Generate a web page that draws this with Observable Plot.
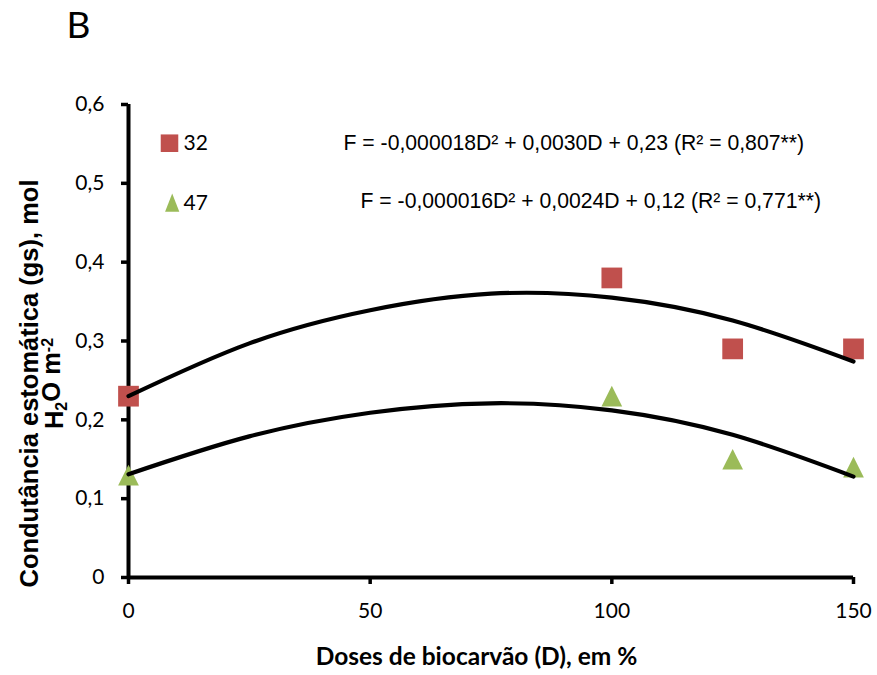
<!DOCTYPE html>
<html>
<head>
<meta charset="utf-8">
<script src="https://cdn.jsdelivr.net/npm/d3@7"></script>
<script src="https://cdn.jsdelivr.net/npm/@observablehq/plot@0.6"></script>
<style>
  html, body { margin: 0; padding: 0; background: #ffffff; }
</style>
</head>
<body>
<div id="chart"></div>
<script>
// ---- data ----
const doses = [0, 100, 125, 150];
const gs32 = [0.23, 0.38, 0.29, 0.29];
const gs47 = [0.13, 0.23, 0.15, 0.14];

// fitted curves
const curveDoses = [0, 25, 50, 75, 100, 125, 150];
const fit32 = [0.230, 0.297, 0.339, 0.360, 0.355, 0.326, 0.274];
const fit47 = [0.131, 0.179, 0.209, 0.221, 0.212, 0.181, 0.128];

const seriesNames = ["32", "47"];
const seriesColors = ["#C0504D", "#9BBB59"];
const equations = [
  "F = -0,000018D² + 0,0030D + 0,23 (R² = 0,807**)",
  "F = -0,000016D² + 0,0024D + 0,12 (R² = 0,771**)"
];

const xTicks = [0, 50, 100, 150];
const yTicks = [0, 0.1, 0.2, 0.3, 0.4, 0.5, 0.6];
const yTickLabels = ["0", "0,1", "0,2", "0,3", "0,4", "0,5", "0,6"];

const panelLabel = "B";
const xTitle = "Doses de biocarvão (D), em %";
const yTitle1 = "Condutância estomática (gs), mol";
const yTitle2 = "H2O m-2";

// ---- tables ----
const pts32 = doses.map((d, i) => ({d, v: gs32[i]}));
const pts47 = doses.map((d, i) => ({d, v: gs47[i]}));
const line32 = curveDoses.map((d, i) => ({d, v: fit32[i]}));
const line47 = curveDoses.map((d, i) => ({d, v: fit47[i]}));

// Excel-style triangle marker (as tall as it is wide, or narrower for the legend)
function triangleSymbol(widthRatio) {
  return {
    draw(context, size) {
      const h = Math.sqrt(size);
      const w = h * widthRatio;
      context.moveTo(0, -h / 2);
      context.lineTo(w / 2, h / 2);
      context.lineTo(-w / 2, h / 2);
      context.closePath();
    }
  };
}

const sans = "'Liberation Sans', Arial, sans-serif";
const calib = "Lato, 'Open Sans', sans-serif";

const chart = Plot.plot({
  width: 877,
  height: 675,
  marginLeft: 128,
  marginRight: 24,
  marginTop: 104,
  marginBottom: 98,
  style: {background: "#ffffff", color: "#000000", fontFamily: calib, fontSize: "21px"},
  x: {domain: [0, 150], label: null},
  y: {domain: [0, 0.6], label: null},
  marks: [
    Plot.axisX({ticks: xTicks, tickSize: 7, tickPadding: 19, strokeWidth: 3.5, fontSize: 21, fontFamily: calib, label: null}),
    Plot.axisY({ticks: yTicks, tickFormat: (d) => yTickLabels[yTicks.indexOf(d)], tickSize: 7, tickPadding: 17, strokeWidth: 3.5, fontSize: 21, fontFamily: calib, label: null}),
    Plot.ruleX([0], {stroke: "#000", strokeWidth: 4}),
    Plot.ruleY([0], {stroke: "#000", strokeWidth: 4}),
    // data markers
    Plot.dot(pts32, {x: "d", y: "v", symbol: "square", r: 11.7, fill: seriesColors[0], stroke: "none"}),
    Plot.dot(pts47, {x: "d", y: "v", symbol: triangleSymbol(1), r: 11.7, fill: seriesColors[1], stroke: "none"}),
    // trend curves
    Plot.line(line32, {x: "d", y: "v", curve: "natural", stroke: "#000", strokeWidth: 4.2}),
    Plot.line(line47, {x: "d", y: "v", curve: "natural", stroke: "#000", strokeWidth: 4.2}),
    // legend
    Plot.dot([seriesNames[0]], {frameAnchor: "top-left", dx: 41, dy: 38.7, symbol: "square", r: 9.9, fill: seriesColors[0]}),
    Plot.dot([seriesNames[1]], {frameAnchor: "top-left", dx: 43.7, dy: 98.2, symbol: triangleSymbol(0.78), r: 10.3, fill: seriesColors[1]}),
    Plot.text([seriesNames[0]], {text: d => d, frameAnchor: "top-left", dx: 55, dy: 39, textAnchor: "start", lineAnchor: "middle", fontSize: 21, fontFamily: calib, fill: "#000"}),
    Plot.text([seriesNames[1]], {text: d => d, frameAnchor: "top-left", dx: 55, dy: 99, textAnchor: "start", lineAnchor: "middle", fontSize: 21, fontFamily: calib, fill: "#000"}),
    // equations
    Plot.text([equations[0]], {text: d => d, frameAnchor: "top-left", dx: 215, dy: 39, textAnchor: "start", lineAnchor: "middle", fontSize: 21.2, fontFamily: sans, fill: "#000"}),
    Plot.text([equations[1]], {text: d => d, frameAnchor: "top-left", dx: 232, dy: 97, textAnchor: "start", lineAnchor: "middle", fontSize: 21.2, fontFamily: sans, fill: "#000"}),
    // panel label
    Plot.text([panelLabel], {text: d => d, frameAnchor: "top-left", dx: -50, dy: -78, textAnchor: "middle", lineAnchor: "middle", fontSize: 37, fontFamily: calib, fill: "#000"}),
    // axis titles
    Plot.text([xTitle], {text: d => d, frameAnchor: "top-left", dx: 348, dy: 553, textAnchor: "middle", lineAnchor: "middle", fontSize: 24.5, fontWeight: "bold", fontFamily: calib, fill: "#000"}),
    Plot.text([yTitle1], {text: d => d, frameAnchor: "top-left", dx: -99, dy: 279, rotate: -90, textAnchor: "middle", lineAnchor: "middle", fontSize: 25.5, fontWeight: "bold", fontFamily: sans, fill: "#000"}),
    Plot.text([yTitle2], {text: d => d, frameAnchor: "top-left", dx: -74, dy: 279, rotate: -90, textAnchor: "middle", lineAnchor: "middle", fontSize: 25.5, fontWeight: "bold", fontFamily: sans, fill: "#000"})
  ]
});

document.getElementById("chart").appendChild(chart);

// turn "H2O m-2" into proper sub/superscripts
chart.querySelectorAll("text").forEach(t => {
  if (t.textContent === yTitle2) {
    t.textContent = "";
    const ns = "http://www.w3.org/2000/svg";
    const parts = [
      {s: "H"}, {s: "2", dy: "0.3em", fs: "16px"}, {s: "O m", dy: "-0.3em"},
      {s: "-2", dy: "-0.45em", fs: "16px"}
    ];
    parts.forEach(p => {
      const ts = document.createElementNS(ns, "tspan");
      ts.textContent = p.s;
      if (p.dy) ts.setAttribute("dy", p.dy);
      if (p.fs) ts.setAttribute("font-size", p.fs);
      t.appendChild(ts);
    });
  }
});
</script>
</body>
</html>
